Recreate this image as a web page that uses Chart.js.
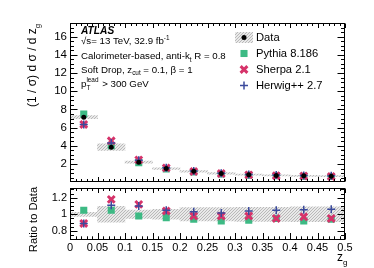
<!DOCTYPE html>
<html>
<head>
<meta charset="utf-8">
<script src="https://cdn.jsdelivr.net/npm/chart.js@4.4.0/dist/chart.umd.min.js"></script>
<style>
html, body { margin: 0; padding: 0; background: #fff; }
#wrap { position: relative; width: 374px; height: 268px; overflow: hidden; }
canvas { position: absolute; left: 0; }
#top { top: 0; }
#bot { top: 180px; }
</style>
</head>
<body>
<div id="wrap">
  <canvas id="top" width="374" height="190"></canvas>
  <canvas id="bot" width="374" height="88"></canvas>
</div>
<script>
// bins of z_g, width 0.05
var binCenters = [0.025, 0.075, 0.125, 0.175, 0.225, 0.275, 0.325, 0.375, 0.425, 0.475];

// main panel, (1/sigma) dsigma/dz_g
var dataVals   = [7.15, 3.85, 2.2, 1.5, 1.2, 0.97, 0.83, 0.75, 0.7, 0.66];
var dataErr    = [0.17, 0.36, 0.11, 0.09, 0.09, 0.08, 0.07, 0.065, 0.063, 0.06];
var pythiaVals = [7.5, 4.0, 2.15, 1.45, 1.13, 0.9, 0.77, 0.71, 0.65, 0.62];
var sherpaVals = [6.35, 4.55, 2.45, 1.57, 1.18, 0.95, 0.81, 0.71, 0.68, 0.63];
var herwigVals = [6.35, 4.3, 2.4, 1.58, 1.23, 0.98, 0.86, 0.79, 0.74, 0.7];

// ratio panel
var ratioErr    = [0.025, 0.095, 0.05, 0.06, 0.08, 0.08, 0.085, 0.085, 0.09, 0.09];
var pythiaRatio = [1.05, 1.05, 0.98, 0.96, 0.94, 0.92, 0.93, 0.95, 0.92, 0.94];
var sherpaRatio = [0.89, 1.18, 1.12, 1.04, 0.98, 0.98, 0.98, 0.95, 0.97, 0.95];
var herwigRatio = [0.89, 1.11, 1.10, 1.05, 1.03, 1.015, 1.04, 1.05, 1.055, 1.06];

// tick labels
var mainTicks  = [2, 4, 6, 8, 10, 12, 14, 16];
var ratioTicks = [0.8, 1, 1.2];
var xTicks     = [0, 0.05, 0.1, 0.15, 0.2, 0.25, 0.3, 0.35, 0.4, 0.45, 0.5];

var FONT = '"Liberation Sans", Arial, Helvetica, sans-serif';
var GREEN = '#3dba84', PINK = '#d6336a', BLUE = '#3b4a9c';

Chart.defaults.font.family = FONT;
Chart.defaults.color = '#000';

function hatch() {
    var c = document.createElement('canvas');
    c.width = 3; c.height = 3;
    var g = c.getContext('2d');
    g.fillStyle = '#e9e9e9';
    g.fillRect(0, 0, 3, 3);
    g.fillStyle = '#b9b9b9';
    g.fillRect(0, 2, 1, 1);
    g.fillRect(1, 1, 1, 1);
    g.fillRect(2, 0, 1, 1);
    return g.createPattern(c, 'repeat');
}
var hatchFill = hatch();

function pts(vals) {
    return binCenters.map(function (x, i) { return { x: x, y: vals[i] }; });
}
function band(center, err) {
    return binCenters.map(function (x, i) {
        var c = Array.isArray(center) ? center[i] : center;
        return { x: x, y: [c - err[i], c + err[i]] };
    });
}
function markerSet(label, vals, style, order) {
    return {
        type: 'scatter', label: label, data: pts(vals), showLine: false, order: order,
        pointStyle: style.shape, pointRadius: style.r, pointHoverRadius: style.r,
        backgroundColor: style.color, borderColor: style.color, pointBorderWidth: style.w
    };
}
var pyStyle = { shape: 'rect', r: 5, color: GREEN, w: 0 };
var shStyle = { shape: 'crossRot', r: 4.8, color: PINK, w: 3 };
var hwStyle = { shape: 'cross', r: 4, color: BLUE, w: 1.5 };

function zeroPad(s) {
    s.paddingTop = 0; s.paddingBottom = 0; s.paddingLeft = 0; s.paddingRight = 0;
}

// frame + inward ticks, ROOT style
function frameTicks(chart, yMinor, yMajorEvery, yFrom, yTo, xMajLen, xMinLen, xTopLen, xTopMin) {
    var ctx = chart.ctx, a = chart.chartArea, xs = chart.scales.x, ys = chart.scales.y;
    var L = Math.round(a.left) + 0.5, R = Math.round(a.right) - 0.5;
    var T = Math.round(a.top) + 0.5, B = Math.round(a.bottom) - 0.5;
    ctx.save();
    ctx.strokeStyle = '#000';
    ctx.lineWidth = 1;
    ctx.strokeRect(L, T, R - L, B - T);
    ctx.beginPath();
    for (var i = 0; i <= 50; i++) {
        var px = Math.round(xs.getPixelForValue(i / 100)) + 0.5;
        var maj = i % 5 === 0;
        var lb = maj ? xMajLen : xMinLen;
        var lt = maj ? xTopLen : xTopMin;
        ctx.moveTo(px, B); ctx.lineTo(px, B - lb);
        ctx.moveTo(px, T); ctx.lineTo(px, T + lt);
    }
    for (var j = yFrom; j <= yTo; j++) {
        var v = j * yMinor;
        var py = Math.round(ys.getPixelForValue(v)) + 0.5;
        if (py < T - 0.1 || py > B + 0.1) continue;
        var len = j % yMajorEvery === 0 ? 7 : 3.5;
        ctx.moveTo(L, py); ctx.lineTo(L + len, py);
        ctx.moveTo(R, py); ctx.lineTo(R - len, py);
    }
    ctx.stroke();
    ctx.restore();
}

function f(size, style) { return (style || '') + ' ' + size + 'px ' + FONT; }

// text with sub/superscripts: parts = [text, kind]
function rich(ctx, x, y, size, parts) {
    ctx.textBaseline = 'alphabetic';
    ctx.textAlign = 'left';
    parts.forEach(function (p) {
        var t = p[0], k = p[1];
        if (k === 'sup') {
            ctx.font = f(size * 0.66);
            ctx.fillText(t, x, y - size * 0.45);
            x += ctx.measureText(t).width;
        } else if (k === 'sub') {
            ctx.font = f(size * 0.66);
            ctx.fillText(t, x, y + size * 0.3);
            x += ctx.measureText(t).width;
        } else if (k === 'supsub') {
            ctx.font = f(size * 0.66);
            ctx.fillText(p[2], x, y - size * 0.48);
            ctx.fillText(t, x, y + size * 0.32);
            x += Math.max(ctx.measureText(t).width, ctx.measureText(p[2]).width) + 1;
        } else {
            ctx.font = f(size);
            ctx.fillText(t, x, y);
            x += ctx.measureText(t).width;
        }
    });
}

function legendMarker(ctx, style, x, y) {
    ctx.fillStyle = style.color;
    ctx.strokeStyle = style.color;
    ctx.lineWidth = style.w || 1;
    Chart.helpers.drawPoint(ctx, {
        pointStyle: style.shape, radius: style.r, borderWidth: style.w
    }, x, y);
}

var topDecor = {
    id: 'topDecor',
    afterDatasetsDraw: function (chart) {
        frameTicks(chart, 0.5, 4, 0, 35, 4.5, 2.5, 4.5, 2.5);
        var ctx = chart.ctx;
        ctx.save();
        ctx.fillStyle = '#000';
        // labels
        ctx.font = f(10.2, 'italic bold');
        ctx.textAlign = 'left';
        ctx.fillText('ATLAS', 81, 34);
        rich(ctx, 81, 44, 9.7, [['\u221As= 13 TeV, 32.9 fb'], ['-1', 'sup']]);
        rich(ctx, 81, 59, 9.7, [['Calorimeter-based, anti-k'], ['t', 'sub'], [' R = 0.8']]);
        rich(ctx, 81, 72.5, 9.7, [['Soft Drop, z'], ['cut', 'sub'], [' = 0.1, \u03B2 = 1']]);
        rich(ctx, 81, 86.5, 9.7, [['p'], ['T', 'supsub', 'lead'], [' > 300 GeV']]);

        // y title
        ctx.save();
        ctx.translate(36, 107);
        ctx.rotate(-Math.PI / 2);
        rich(ctx, 0, 0, 12, [['(1 / \u03C3) d \u03C3 / d z'], ['g', 'sub']]);
        ctx.restore();

        // legend
        var lx = 244, tx = 256, rows = [37.5, 53.5, 69.5, 85.5];
        ctx.fillStyle = hatchFill;
        ctx.fillRect(235, 32, 18, 11);
        ctx.fillStyle = '#000';
        ctx.beginPath(); ctx.arc(lx, rows[0], 2.5, 0, Math.PI * 2); ctx.fill();
        legendMarker(ctx, pyStyle, lx, rows[1]);
        legendMarker(ctx, shStyle, lx, rows[2]);
        legendMarker(ctx, hwStyle, lx, rows[3]);
        ctx.fillStyle = '#000';
        ctx.font = f(11.2);
        ctx.textBaseline = 'middle';
        ['Data', 'Pythia 8.186', 'Sherpa 2.1', 'Herwig++ 2.7'].forEach(function (t, i) {
            ctx.fillText(t, tx, rows[i] + 0.5);
        });
        ctx.restore();
    }
};

var botDecor = {
    id: 'botDecor',
    afterDatasetsDraw: function (chart) {
        frameTicks(chart, 0.05, 4, 13, 27, 6.5, 3.2, 4.5, 2.5);
        var ctx = chart.ctx;
        ctx.save();
        ctx.fillStyle = '#000';
        ctx.save();
        ctx.translate(37, 39.5);
        ctx.rotate(-Math.PI / 2);
        ctx.font = f(11.2);
        ctx.textAlign = 'center';
        ctx.textBaseline = 'alphabetic';
        ctx.fillText('Ratio to Data', 0, 0);
        ctx.restore();
        ctx.font = f(12);
        ctx.textAlign = 'right';
        ctx.fillText('z', 343, 81);
        ctx.font = f(8);
        ctx.textAlign = 'left';
        ctx.fillText('g', 343, 85);
        ctx.restore();
    }
};

var common = {
    responsive: false,
    animation: false,
    devicePixelRatio: 1,
    plugins: { legend: { display: false }, tooltip: { enabled: false } },
    events: []
};

var topChart = new Chart(document.getElementById('top').getContext('2d'), {
    type: 'scatter',
    data: {
        datasets: [
            { type: 'bar', label: 'Data unc.', data: band(dataVals, dataErr), backgroundColor: hatchFill,
              borderWidth: 0, barPercentage: 1, categoryPercentage: 1, order: 5 },
            markerSet('Pythia 8.186', pythiaVals, pyStyle, 4),
            markerSet('Sherpa 2.1', sherpaVals, shStyle, 3),
            markerSet('Herwig++ 2.7', herwigVals, hwStyle, 2),
            { type: 'scatter', label: 'Data', data: pts(dataVals), showLine: false, order: 1,
              pointStyle: 'circle', pointRadius: 2.5, backgroundColor: '#000', borderColor: '#000', pointBorderWidth: 0 }
        ]
    },
    options: Object.assign({}, common, {
        layout: { padding: { left: 0, right: 29, top: 23, bottom: 3 } },
        scales: {
            x: { type: 'linear', min: 0, max: 0.5, display: false, offset: false },
            y: {
                min: 0, max: 17.5,
                afterFit: function (s) { s.width = 70; zeroPad(s); },
                afterBuildTicks: function (s) { s.ticks = mainTicks.map(function (v) { return { value: v }; }); },
                grid: { display: false, drawTicks: false },
                border: { display: false },
                ticks: { padding: 3, font: { size: 11.5 }, color: '#000' }
            }
        }
    }),
    plugins: [topDecor]
});

var botChart = new Chart(document.getElementById('bot').getContext('2d'), {
    type: 'scatter',
    data: {
        datasets: [
            { type: 'bar', label: 'Data unc.', data: band(1, ratioErr), backgroundColor: hatchFill,
              borderWidth: 0, barPercentage: 1, categoryPercentage: 1, order: 5 },
            markerSet('Pythia 8.186', pythiaRatio, pyStyle, 4),
            markerSet('Sherpa 2.1', sherpaRatio, shStyle, 3),
            markerSet('Herwig++ 2.7', herwigRatio, hwStyle, 2)
        ]
    },
    options: Object.assign({}, common, {
        layout: { padding: { left: 0, right: 29, top: 7, bottom: 0 } },
        scales: {
            x: {
                type: 'linear', min: 0, max: 0.5, offset: false,
                afterFit: function (s) { s.height = 28; zeroPad(s); },
                afterBuildTicks: function (s) { s.ticks = xTicks.map(function (v) { return { value: v }; }); },
                grid: { display: false, drawTicks: false },
                border: { display: false },
                ticks: { padding: 1, autoSkip: false, maxRotation: 0, font: { size: 11 }, color: '#000',
                         callback: function (v) { return String(v); } }
            },
            y: {
                min: 0.69, max: 1.32,
                afterFit: function (s) { s.width = 70; zeroPad(s); },
                afterBuildTicks: function (s) { s.ticks = ratioTicks.map(function (v) { return { value: v }; }); },
                grid: { display: false, drawTicks: false },
                border: { display: false },
                ticks: { padding: 3, font: { size: 11 }, color: '#000', callback: function (v) { return String(v); } }
            }
        }
    }),
    plugins: [botDecor]
});
</script>
</body>
</html>
